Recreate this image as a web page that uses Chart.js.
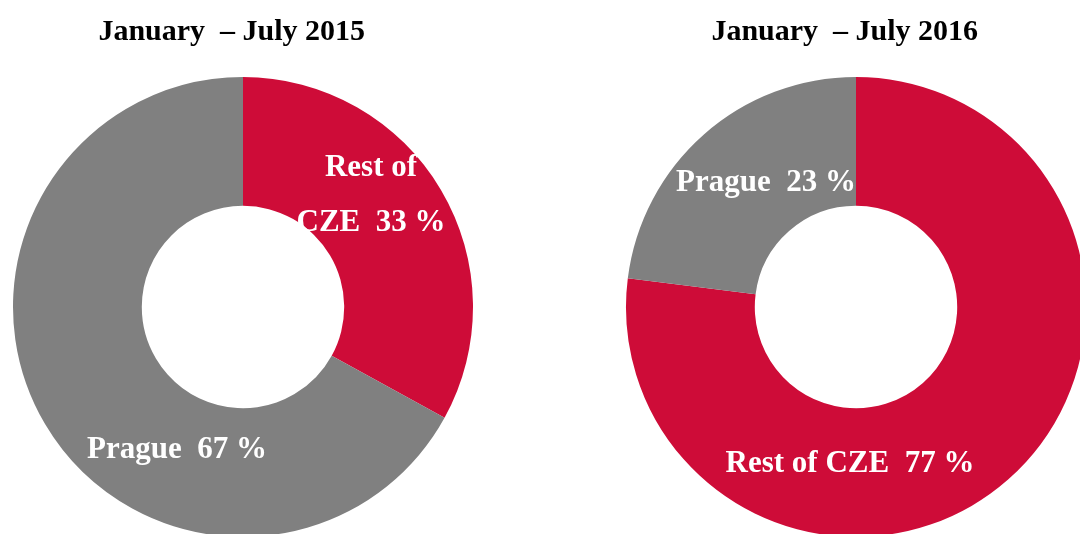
<!DOCTYPE html>
<html>
<head>
<script src="https://cdn.jsdelivr.net/npm/chart.js@4.4.1/dist/chart.umd.min.js"></script>
<style>
  body { margin: 0; width: 1080px; height: 534px; overflow: hidden; background: #fff; }
  canvas { position: absolute; top: 0; }
</style>
</head>
<body>
<canvas id="c2015" width="486" height="537" style="left:0px"></canvas>
<canvas id="c2016" width="486" height="537" style="left:613px"></canvas>
<script>
// shares of tourist arrivals, January - July
var labels2015 = ['Rest of CZE', 'Prague'];
var values2015 = [33, 67];
var labels2016 = ['Rest of CZE', 'Prague'];
var values2016 = [77, 23];
var titles = ['January  \u2013 July 2015', 'January  \u2013 July 2016'];

var RED = '#ce0c38', GREY = '#808080';
var FONT = '"Liberation Serif", "Times New Roman", serif';

// where each slice label sits, relative to the doughnut centre
var labelSpots2015 = [
  { lines: ['Rest of', 'CZE  33 %'], dx: 128, dy: -139, lh: 55 },
  { lines: ['Prague  67 %'], dx: -66, dy: 143, lh: 0 }
];
var labelSpots2016 = [
  { lines: ['Rest of CZE  77 %'], dx: -6, dy: 157, lh: 0 },
  { lines: ['Prague  23 %'], dx: -90, dy: -124, lh: 0 }
];

var sliceLabels = {
  id: 'sliceLabels',
  afterDatasetsDraw(chart, args, opts) {
    var ctx = chart.ctx;
    var arcs = chart.getDatasetMeta(0).data;
    ctx.save();
    ctx.fillStyle = '#fff';
    ctx.font = 'bold 31px ' + FONT;
    ctx.textAlign = 'center';
    ctx.textBaseline = 'middle';
    opts.spots.forEach((s, i) => {
      var a = arcs[i];
      s.lines.forEach((t, j) => ctx.fillText(t, a.x + s.dx, a.y + s.dy + j * s.lh));
    });
    ctx.restore();
  }
};

function makeDoughnut(id, labels, values, title, spots) {
  return new Chart(document.getElementById(id), {
    type: 'doughnut',
    data: {
      labels: labels,
      datasets: [{
        data: values,
        backgroundColor: [RED, GREY],
        borderWidth: 0
      }]
    },
    options: {
      responsive: false,
      animation: false,
      cutout: '44%',
      layout: { padding: 0 },
      plugins: {
        legend: { display: false },
        tooltip: { enabled: false },
        title: {
          display: true,
          text: title + '   ',
          color: '#000',
          font: { family: FONT, size: 30, weight: 'bold' },
          padding: { top: 14, bottom: 27 }
        },
        sliceLabels: { spots: spots }
      }
    },
    plugins: [sliceLabels]
  });
}

makeDoughnut('c2015', labels2015, values2015, titles[0], labelSpots2015);
makeDoughnut('c2016', labels2016, values2016, titles[1], labelSpots2016);
</script>
</body>
</html>
